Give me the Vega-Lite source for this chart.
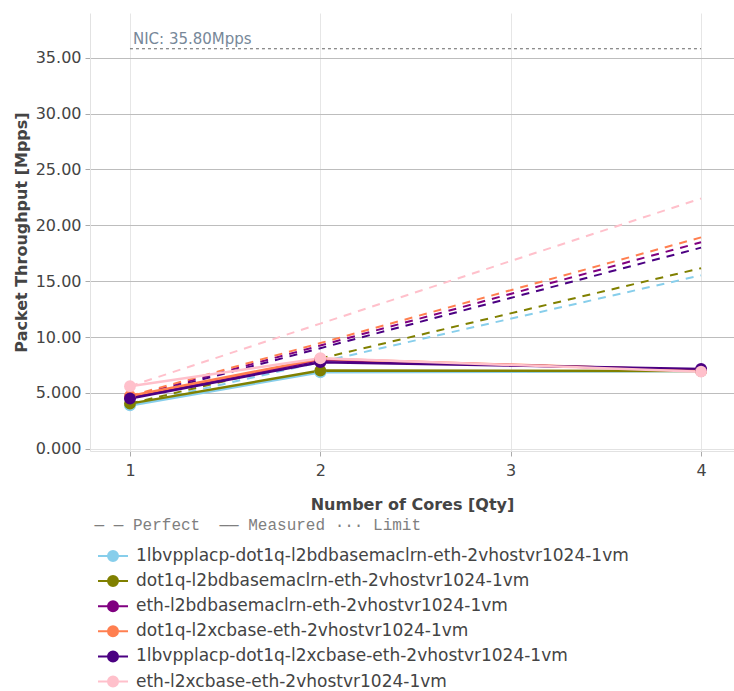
{
  "$schema": "https://vega.github.io/schema/vega-lite/v6.json",
  "width": 644,
  "height": 438,
  "autosize": {"type": "none"},
  "padding": {"left": 90, "top": 13, "right": 0, "bottom": 240},
  "background": "white",
  "config": {
    "font": "DejaVu Sans",
    "view": {"stroke": null},
    "axis": {
      "labelFont": "DejaVu Sans",
      "labelFontSize": 16,
      "labelColor": "#444",
      "titleFont": "DejaVu Sans",
      "titleFontSize": 16,
      "titleFontWeight": "bold",
      "titleColor": "#444",
      "domainColor": "#e2e2e2",
      "tickColor": "#aaaaaa",
      "tickSize": 5
    }
  },
  "datasets": {
    "main": [
      {"series": "1lbvpplacp-dot1q-l2bdbasemaclrn-eth-2vhostvr1024-1vm", "cores": 1, "measured": 3.88, "perfect": 3.88},
      {"series": "1lbvpplacp-dot1q-l2bdbasemaclrn-eth-2vhostvr1024-1vm", "cores": 2, "measured": 6.85, "perfect": 7.76},
      {"series": "1lbvpplacp-dot1q-l2bdbasemaclrn-eth-2vhostvr1024-1vm", "cores": 4, "measured": 6.95, "perfect": 15.52},
      {"series": "dot1q-l2bdbasemaclrn-eth-2vhostvr1024-1vm", "cores": 1, "measured": 4.04, "perfect": 4.04},
      {"series": "dot1q-l2bdbasemaclrn-eth-2vhostvr1024-1vm", "cores": 2, "measured": 7.0, "perfect": 8.08},
      {"series": "dot1q-l2bdbasemaclrn-eth-2vhostvr1024-1vm", "cores": 4, "measured": 6.95, "perfect": 16.16},
      {"series": "eth-l2bdbasemaclrn-eth-2vhostvr1024-1vm", "cores": 1, "measured": 4.62, "perfect": 4.62},
      {"series": "eth-l2bdbasemaclrn-eth-2vhostvr1024-1vm", "cores": 2, "measured": 7.95, "perfect": 9.24},
      {"series": "eth-l2bdbasemaclrn-eth-2vhostvr1024-1vm", "cores": 4, "measured": 7.05, "perfect": 18.48},
      {"series": "dot1q-l2xcbase-eth-2vhostvr1024-1vm", "cores": 1, "measured": 4.73, "perfect": 4.73},
      {"series": "dot1q-l2xcbase-eth-2vhostvr1024-1vm", "cores": 2, "measured": 8.05, "perfect": 9.46},
      {"series": "dot1q-l2xcbase-eth-2vhostvr1024-1vm", "cores": 4, "measured": 7.0, "perfect": 18.92},
      {"series": "1lbvpplacp-dot1q-l2xcbase-eth-2vhostvr1024-1vm", "cores": 1, "measured": 4.5, "perfect": 4.5},
      {"series": "1lbvpplacp-dot1q-l2xcbase-eth-2vhostvr1024-1vm", "cores": 2, "measured": 7.75, "perfect": 9.0},
      {"series": "1lbvpplacp-dot1q-l2xcbase-eth-2vhostvr1024-1vm", "cores": 4, "measured": 7.15, "perfect": 18.0},
      {"series": "eth-l2xcbase-eth-2vhostvr1024-1vm", "cores": 1, "measured": 5.6, "perfect": 5.6},
      {"series": "eth-l2xcbase-eth-2vhostvr1024-1vm", "cores": 2, "measured": 8.1, "perfect": 11.2},
      {"series": "eth-l2xcbase-eth-2vhostvr1024-1vm", "cores": 4, "measured": 6.9, "perfect": 22.4}
    ],
    "limit": [
      {"cores": 1, "value": 35.8, "label": "NIC: 35.80Mpps"},
      {"cores": 4, "value": 35.8, "label": ""}
    ]
  },
  "layer": [
    {
      "data": {"name": "main"},
      "mark": {"type": "line", "strokeWidth": 2, "strokeDash": [8, 7]},
      "encoding": {
        "x": {
          "field": "cores", "type": "quantitative",
          "scale": {"domain": [0.79, 4.173], "nice": false, "zero": false},
          "axis": {
            "values": [1, 2, 3, 4], "format": "d",
            "title": "Number of Cores [Qty]",
            "grid": true, "gridColor": "#e6e6e6",
            "labelPadding": 6, "titlePadding": 18
          }
        },
        "y": {
          "field": "perfect", "type": "quantitative",
          "scale": {"domain": [-0.2, 39], "nice": false, "zero": false},
          "axis": {
            "values": [0, 5, 10, 15, 20, 25, 30, 35],
            "labelExpr": "datum.value === 0 ? '0.000' : format(datum.value, '.4r')",
            "title": "Packet Throughput [Mpps]",
            "grid": true,
            "gridColor": {"condition": {"test": "datum.value === 0", "value": "#e2e2e2"}, "value": "#bdbdbd"},
            "labelPadding": 4, "titlePadding": 6
          }
        },
        "color": {
          "field": "series", "type": "nominal",
          "scale": {
            "domain": [
              "1lbvpplacp-dot1q-l2bdbasemaclrn-eth-2vhostvr1024-1vm",
              "dot1q-l2bdbasemaclrn-eth-2vhostvr1024-1vm",
              "eth-l2bdbasemaclrn-eth-2vhostvr1024-1vm",
              "dot1q-l2xcbase-eth-2vhostvr1024-1vm",
              "1lbvpplacp-dot1q-l2xcbase-eth-2vhostvr1024-1vm",
              "eth-l2xcbase-eth-2vhostvr1024-1vm"
            ],
            "range": ["#87CEEB", "#808000", "#800080", "#FF7F50", "#4B0082", "#FFC0CB"]
          },
          "legend": {
            "orient": "none",
            "legendX": 4.6,
            "legendY": 504,
            "padding": 0,
            "title": "— — Perfect\u00a0 —— Measured ··· Limit",
            "titleFont": "Liberation Mono",
            "titleFontSize": 16,
            "titleFontWeight": "normal",
            "titleColor": "#7f7f7f",
            "titleLimit": 1000,
            "titlePadding": 14,
            "labelFont": "DejaVu Sans",
            "labelFontSize": 17,
            "labelColor": "#444",
            "labelLimit": 1000,
            "labelOffset": 23.4,
            "rowPadding": 7.1,
            "symbolSize": 256,
            "symbolStrokeWidth": 2,
            "symbolType": "M-0.7,0L3.05,0M1.8,0A0.625,0.625,0,1,1,0.55,0A0.625,0.625,0,1,1,1.8,0Z",
            "encode": {
              "symbols": {
                "update": {
                  "fill": {"scale": "color", "field": "value"},
                  "stroke": {"scale": "color", "field": "value"},
                  "opacity": {"value": 1},
                  "fillOpacity": {"value": 1},
                  "strokeOpacity": {"value": 1}
                }
              }
            }
          }
        }
      }
    },
    {
      "data": {"name": "main"},
      "mark": {"type": "line", "strokeWidth": 2.5},
      "encoding": {
        "x": {"field": "cores", "type": "quantitative"},
        "y": {"field": "measured", "type": "quantitative"},
        "color": {"field": "series", "type": "nominal"}
      }
    },
    {
      "data": {"name": "main"},
      "mark": {"type": "point", "filled": true, "size": 140, "opacity": 1, "shape": "circle"},
      "encoding": {
        "x": {"field": "cores", "type": "quantitative"},
        "y": {"field": "measured", "type": "quantitative"},
        "color": {"field": "series", "type": "nominal"}
      }
    },
    {
      "data": {"name": "limit"},
      "mark": {"type": "line", "strokeWidth": 1, "strokeDash": [3, 3], "color": "#666666"},
      "encoding": {
        "x": {"field": "cores", "type": "quantitative"},
        "y": {"field": "value", "type": "quantitative"}
      }
    },
    {
      "data": {"name": "limit"},
      "mark": {"type": "text", "align": "left", "baseline": "bottom", "dx": 3, "dy": -2, "fontSize": 15, "color": "#778899", "font": "DejaVu Sans"},
      "encoding": {
        "x": {"field": "cores", "type": "quantitative"},
        "y": {"field": "value", "type": "quantitative"},
        "text": {"field": "label"}
      }
    }
  ]
}
